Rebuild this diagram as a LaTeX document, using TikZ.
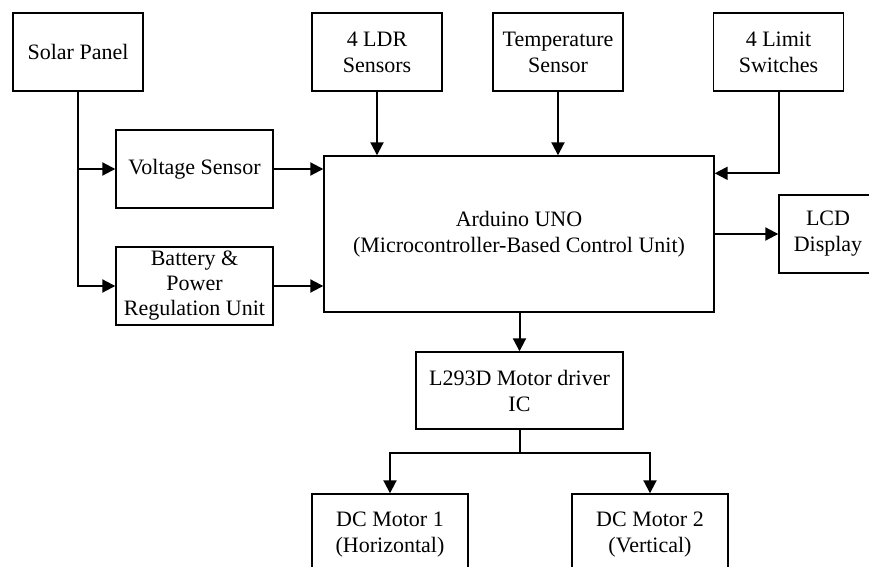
\documentclass[tikz,border=0pt]{standalone}
\usepackage{fontspec}
\setmainfont{Liberation Serif}
\usetikzlibrary{arrows.meta,positioning}

\begin{document}
\begin{tikzpicture}[x=0.5pt, y=-0.5pt,
        block/.style={draw, line width=0.7pt, align=center, inner sep=2pt,
            minimum width=65pt, minimum height=39pt,
            font=\fontsize{11}{13}\selectfont},
        link/.style={line width=1pt, -{Triangle[length=6.5pt,width=6.5pt]}}]
        \useasboundingbox (0,0) rectangle (869,567);
        \clip (0,0) rectangle (869,567);
        % Define blocks
        \node[block] (Solar) at (78,52) {Solar Panel};
        \node[block] (LDR) at (377,52) {4 LDR\\Sensors};
        \node[block] (Temp) at (558,52) {Temperature\\Sensor};
        \node[block] (Limit) at (778.5,52) {4 Limit\\Switches};
        \node[block, minimum width=78.5pt] (Volt) at (194.5,169) {Voltage Sensor};
        \node[block, minimum width=78.5pt, font=\fontsize{11}{12.5}\selectfont] (Batt) at (194.5,286) {Battery \&\\Power\\Regulation Unit};
        \node[block, minimum width=195pt, minimum height=78pt] (Arduino) at (519,234) {Arduino UNO\\(Microcontroller-Based Control Unit)};
        \node[block, minimum width=49pt] (LCD) at (828,234) {LCD\\Display};
        \node[block, minimum width=103.5pt, minimum height=38.5pt] (Driver) at (519.5,390.5) {L293D Motor driver\\IC};
        \node[block, minimum width=78pt, minimum height=41pt] (Motor1) at (390,535) {DC Motor 1\\(Horizontal)};
        \node[block, minimum width=78pt, minimum height=41pt] (Motor2) at (650,535) {DC Motor 2\\(Vertical)};
        \coordinate (split) at (519.5,453);

        % Define connections
        \draw[link] (Solar.south) |- (Batt.west);
        \draw[link] (Solar.south |- Volt.west) -- (Volt.west);
        \draw[link] (Volt.east) -- (Arduino.west |- Volt.east);
        \draw[link] (Batt.east) -- (Arduino.west |- Batt.east);
        \draw[link] (LDR.south) -- (LDR.south |- Arduino.north);
        \draw[link] (Temp.south) -- (Temp.south |- Arduino.north);
        \draw[link] (Limit.south) |- ([yshift=-9pt]Arduino.north east);
        \draw[link] (Arduino.east) -- (LCD.west);
        \draw[link] (Arduino.south -| Driver.north) -- (Driver.north);
        \draw[line width=1pt] (Driver.south) -- (split);
        \draw[link] (split) -| (Motor1.north);
        \draw[link] (split) -| (Motor2.north);
\end{tikzpicture}
\end{document}
